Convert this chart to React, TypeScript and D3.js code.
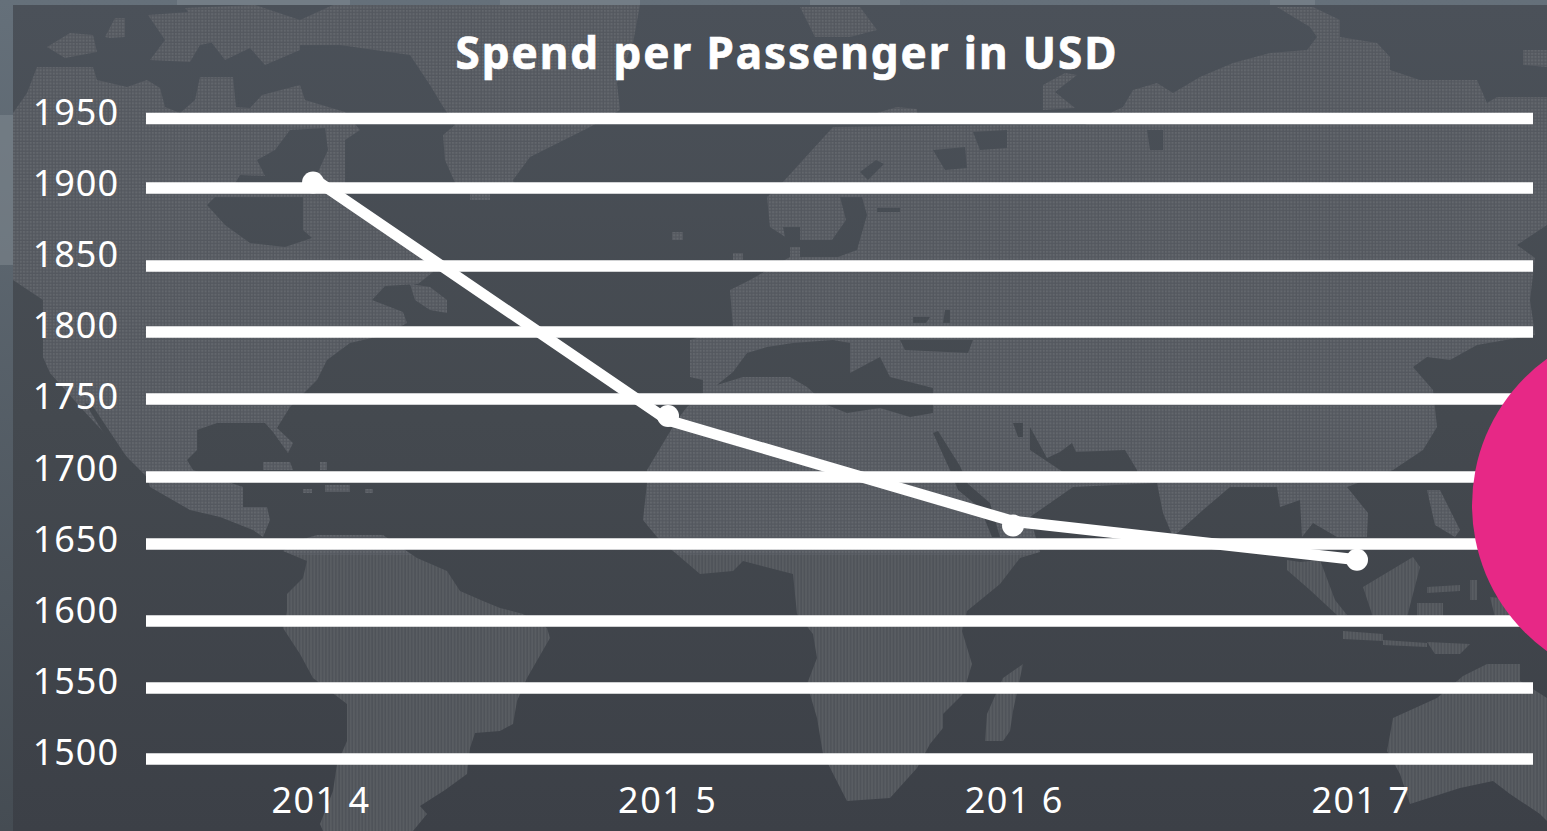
import React from "react";
import * as d3 from "d3";

// Chart values
const yearLabels = ["201 4", "201 5", "201 6", "201 7"];
const spendTicks = [1950, 1900, 1850, 1800, 1750, 1700, 1650, 1600, 1550, 1500];
const trendValues = [1908, 1738, 1667, 1640];
const pointValues = [1905, 1741, 1664, 1640];

const WIDTH = 1547;
const HEIGHT = 831;
const INK = "#ffffff";
const FONT = "'Noto Sans', 'Open Sans', sans-serif";

type Pt = [number, number];

// Continents of the backdrop map, in page pixels.
const landmasses: Pt[][] = [
  // North America
  [[13,113],[27,93],[37,67],[93,67],[97,80],[127,87],[147,80],[160,88],[165,107],[180,113],[195,100],[200,77],[233,77],[236,107],[250,108],[262,95],[300,85],[305,100],[345,112],[360,130],[345,140],[345,190],[335,197],[360,213],[395,238],[425,260],[433,272],[418,284],[385,286],[372,300],[403,312],[407,323],[385,335],[350,343],[327,360],[317,380],[290,407],[277,428],[293,443],[288,453],[273,432],[265,423],[217,423],[197,430],[197,450],[187,460],[193,470],[243,487],[243,507],[267,507],[270,520],[263,537],[253,530],[220,517],[190,510],[150,487],[147,477],[120,450],[83,410],[50,373],[43,357],[43,300],[13,280]],
  // South America
  [[283,551],[300,540],[317,535],[383,535],[417,558],[447,571],[460,591],[483,601],[500,608],[523,614],[547,628],[550,638],[527,678],[517,701],[513,724],[500,731],[475,733],[470,748],[467,774],[445,790],[420,806],[427,814],[413,831],[323,831],[320,824],[333,791],[337,764],[347,741],[347,704],[313,678],[300,654],[283,628],[287,611],[287,594],[303,578],[307,561]],
  // Greenland
  [[333,5],[640,5],[633,43],[617,83],[620,110],[590,127],[530,157],[513,180],[515,187],[457,187],[445,160],[443,135],[455,125],[442,105],[430,85],[410,55],[340,45],[300,45],[300,20]],
  [[470,193],[490,193],[490,200],[470,200]],
  // Africa and Eurasia
  [[833,127],[1030,125],[1085,125],[1123,107],[1133,90],[1157,83],[1173,93],[1200,77],[1233,63],[1270,53],[1307,50],[1317,37],[1310,27],[1277,7],[1313,7],[1340,20],[1340,37],[1377,43],[1390,57],[1390,70],[1420,80],[1477,80],[1487,103],[1497,97],[1547,97],[1547,225],[1517,245],[1535,258],[1530,300],[1535,335],[1477,345],[1450,360],[1427,357],[1413,367],[1433,390],[1437,427],[1423,450],[1393,470],[1347,487],[1368,513],[1367,537],[1337,537],[1313,523],[1302,537],[1300,500],[1280,507],[1277,487],[1230,487],[1203,510],[1173,537],[1163,513],[1157,483],[1073,487],[1030,517],[1040,552],[1020,558],[1000,584],[967,611],[962,631],[972,664],[963,694],[943,714],[943,728],[930,744],[917,768],[890,798],[847,801],[823,754],[817,718],[807,684],[817,658],[813,634],[797,614],[793,574],[743,561],[733,571],[700,574],[673,551],[657,537],[643,520],[647,483],[647,470],[677,420],[687,407],[703,393],[703,380],[690,377],[690,340],[733,327],[730,290],[750,280],[790,257],[790,240],[770,227],[767,197],[783,182]],
  // Australia
  [[1393,718],[1437,698],[1463,676],[1487,664],[1520,664],[1520,681],[1547,698],[1547,821],[1540,814],[1510,794],[1493,781],[1460,788],[1410,804],[1400,774],[1387,751]],
  // Madagascar
  [[985,741],[987,714],[1003,678],[1023,664],[1013,711],[1010,731],[1003,741]],
  // Arctic islands
  [[47,47],[70,33],[93,35],[97,52],[65,58]],
  [[105,37],[115,18],[125,18],[125,37],[110,38]],
  [[148,15],[190,12],[235,38],[200,45],[190,62],[150,60],[165,40]],
  [[185,8],[255,5],[300,20],[300,50],[265,65],[250,48],[225,60]],
  [[800,7],[860,7],[877,30],[850,37],[815,37]],
  [[1043,110],[1043,85],[1065,73],[1077,75],[1055,92],[1075,108]],
  [[1523,50],[1547,50],[1547,67],[1523,65]],
  [[877,113],[897,107],[917,109],[917,113]],
  // Newfoundland and the Caribbean
  [[410,284],[430,287],[447,300],[447,313],[430,310],[415,300]],
  [[263,462],[290,462],[293,470],[263,470]],
  [[320,462],[327,462],[327,470],[320,470]],
  [[325,485],[350,485],[350,492],[325,492]],
  [[303,489],[312,489],[312,493],[303,493]],
  [[365,489],[373,489],[373,493],[365,493]],
  // Atlantic specks
  [[672,232],[683,232],[683,240],[672,240]],
  [[733,253],[743,253],[743,260],[733,260]],
  // Island chains of South-East Asia
  [[1287,560],[1300,562],[1320,560],[1335,600],[1347,615],[1338,616],[1310,590],[1287,570]],
  [[1363,587],[1413,557],[1420,567],[1407,617],[1373,617]],
  [[1427,490],[1440,490],[1460,530],[1455,537],[1435,525]],
  [[1427,587],[1460,585],[1460,591],[1427,593]],
  [[1417,603],[1443,603],[1443,617],[1417,617]],
  [[1470,580],[1477,580],[1477,600],[1470,600]],
  [[1490,597],[1520,600],[1520,617],[1495,617]],
  [[1343,631],[1383,634],[1383,641],[1343,639]],
  [[1383,640],[1427,643],[1427,647],[1383,645]],
  [[1427,642],[1470,644],[1460,654],[1435,654]],
];

// Inland seas and bays cut back out of the continents.
const innerSeas: Pt[][] = [
  // Hudson Bay and Foxe Basin
  [[207,205],[215,197],[303,197],[303,230],[312,238],[285,247],[250,243],[225,225]],
  [[257,160],[275,150],[290,130],[325,128],[328,150],[318,172],[296,187],[233,187],[240,175],[265,176]],
  [[360,153],[372,155],[388,190],[376,190]],
  // Gulf of California
  [[85,403],[92,405],[130,462],[124,466]],
  // Mediterranean and neighbours
  [[747,353],[767,347],[793,343],[833,340],[850,343],[850,373],[880,357],[890,377],[933,388],[933,413],[910,417],[880,408],[847,413],[827,405],[807,387],[790,377],[743,377],[717,385],[733,372]],
  [[900,340],[973,340],[968,353],[905,350]],
  [[913,317],[930,317],[926,323],[913,323]],
  [[945,310],[950,310],[950,323],[943,323]],
  [[1013,423],[1023,423],[1023,437],[1018,437]],
  // Baltic and North Sea
  [[840,197],[862,197],[867,215],[857,250],[838,257],[800,257],[800,240],[832,240],[846,220]],
  [[860,172],[876,160],[884,164],[868,180]],
  [[783,227],[800,227],[800,247],[787,247]],
  [[877,208],[900,208],[900,212],[877,212]],
  [[933,150],[965,147],[967,168],[945,170]],
  [[973,132],[1007,130],[1007,148],[980,150]],
  [[1147,130],[1163,130],[1163,150],[1150,150]],
  // Red Sea and the Gulf
  [[933,433],[938,431],[960,466],[968,484],[990,503],[1000,537],[992,537],[980,508],[958,490],[950,470]],
  [[1030,427],[1047,458],[1060,452],[1072,443],[1076,452],[1125,450],[1137,470],[1137,477],[1070,477],[1060,470],[1030,450]],
];

// Pale bits of the map showing in the frame around the panel.
const frameSpecks: [number, number, number, number][] = [
  [177, 0, 173, 5], [500, 0, 140, 5], [810, 0, 90, 5], [1270, 0, 45, 5], [0, 115, 13, 150],
];

// Gridlines sit on whole raster rows, so they are not spaced quite evenly.
const gridRows = [118.5, 188, 266, 332, 399, 477, 544, 621, 688, 759];
const gridScale = d3.scaleLinear<number>().domain(spendTicks).range(gridRows);
const labelScale = d3.scaleLinear().domain([1500, 1950]).range([765, 125]);
const yScale = d3.scaleLinear().domain([1500, 1950]).range([759, 118.5]);

const xLabelScale = d3.scalePoint<string>().domain(yearLabels).range([321, 1361]);
const xScale = d3.scaleOrdinal<string, number>().domain(yearLabels).range([313, 668, 1013, 1357]);

const outline = d3.line<Pt>().curve(d3.curveLinearClosed);
const trendLine = d3
  .line<number>()
  .x((_, i) => xScale(yearLabels[i]))
  .y((v) => yScale(v));

const landPath = landmasses.map((p) => outline(p) as string).join(" ");

export default function App() {
  return (
    <svg
      width={WIDTH}
      height={HEIGHT}
      viewBox={`0 0 ${WIDTH} ${HEIGHT}`}
      style={{ position: "fixed", left: 0, top: 0, display: "block" }}
    >
      <defs>
        <linearGradient id="panelFill" gradientUnits="userSpaceOnUse" x1="0" y1="5" x2="0" y2={HEIGHT}>
          <stop offset="0" stopColor="#4b5159" />
          <stop offset="0.5" stopColor="#44494f" />
          <stop offset="1" stopColor="#3c4047" />
        </linearGradient>
        <linearGradient id="frameFill" gradientUnits="userSpaceOnUse" x1="0" y1="0" x2="0" y2={HEIGHT}>
          <stop offset="0" stopColor="#65707a" />
          <stop offset="1" stopColor="#454c53" />
        </linearGradient>
        <pattern id="landGrid" patternUnits="userSpaceOnUse" width="3.3" height="3.3">
          <rect width="3.3" height="3.3" fill="#54585f" />
          <rect width="2" height="2" fill="#63676d" />
        </pattern>
        <pattern id="landStripes" patternUnits="userSpaceOnUse" width="3.3" height="3.3">
          <rect width="3.3" height="3.3" fill="#4f5359" />
          <rect width="1.7" height="3.3" fill="#595d62" />
        </pattern>
        <clipPath id="upperMap"><rect x="13" y="5" width={WIDTH} height="550" /></clipPath>
        <clipPath id="lowerMap"><rect x="13" y="555" width={WIDTH} height="280" /></clipPath>
      </defs>

      {/* Frame and dark panel */}
      <rect width={WIDTH} height={HEIGHT} fill="url(#frameFill)" />
      {frameSpecks.map(([x, y, w, h], i) => (
        <rect key={i} x={x} y={y} width={w} height={h} fill="#7f8890" opacity={0.55} />
      ))}
      <rect x={13} y={5} width={WIDTH - 13} height={HEIGHT - 5} fill="url(#panelFill)" />

      {/* World map backdrop */}
      <path d={landPath} fill="url(#landGrid)" clipPath="url(#upperMap)" />
      <path d={landPath} fill="url(#landStripes)" clipPath="url(#lowerMap)" />
      {innerSeas.map((p, i) => (
        <path key={i} d={outline(p) as string} fill="url(#panelFill)" />
      ))}

      <text
        x={787}
        y={69}
        textAnchor="middle"
        fontFamily={FONT}
        fontWeight={700}
        fontSize={44}
        letterSpacing={1.95}
        stroke={INK}
        strokeWidth={0.7}
        fill={INK}
      >
        Spend per Passenger in USD
      </text>

      {/* Horizontal gridlines */}
      {spendTicks.map((t) => (
        <line key={t} x1={146} x2={1533} y1={gridScale(t)} y2={gridScale(t)} stroke={INK} strokeWidth={11.5} />
      ))}

      {/* Value axis labels */}
      {spendTicks.map((t) => (
        <text
          key={t}
          x={119}
          y={labelScale(t)}
          textAnchor="end"
          fontFamily={FONT}
          fontSize={36}
          letterSpacing={1}
          fill={INK}
        >
          {t}
        </text>
      ))}

      {/* Year labels */}
      {yearLabels.map((c) => (
        <text
          key={c}
          x={xLabelScale(c)}
          y={813}
          textAnchor="middle"
          fontFamily={FONT}
          fontSize={36}
          letterSpacing={1.5}
          fill={INK}
        >
          {c}
        </text>
      ))}

      {/* Spend series */}
      <path d={trendLine(trendValues) as string} fill="none" stroke={INK} strokeWidth={11} />
      {pointValues.map((v, i) => (
        <circle key={i} cx={xScale(yearLabels[i])} cy={yScale(v)} r={11} fill={INK} />
      ))}

      {/* Pink disc running off the right edge */}
      <circle cx={1652} cy={505} r={180} fill="#e72886" />
    </svg>
  );
}
